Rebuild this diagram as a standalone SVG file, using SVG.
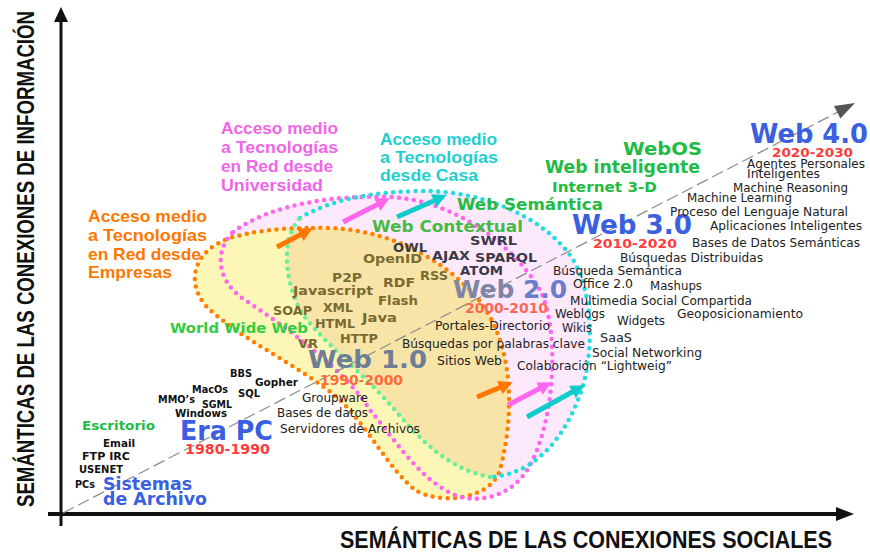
<svg xmlns="http://www.w3.org/2000/svg" width="870" height="553" viewBox="0 0 870 553">
<style>
.ax{font-family:"Liberation Sans",Arial,sans-serif;font-weight:bold;fill:#111}
.acc{font-family:"Liberation Sans",Arial,sans-serif;font-weight:bold;font-size:17px}
.v{font-family:"DejaVu Sans",Verdana,sans-serif;font-size:11.5px;fill:#222}
.vb{font-family:"DejaVu Sans",Verdana,sans-serif;font-weight:bold}
.g{fill:#22bb44}
.blue{fill:#3a5fe0}
.red{fill:#ff3b3b}
.tok{font-family:"DejaVu Sans",Verdana,sans-serif;font-weight:bold;font-size:13px;fill:#7a6a30}
.tokd{font-family:"DejaVu Sans",Verdana,sans-serif;font-weight:bold;font-size:13px;fill:#3a3a48}
.pc{font-family:"DejaVu Sans",Verdana,sans-serif;font-weight:bold;font-size:10px;fill:#111}
.dot{fill:none;stroke-width:4.5;stroke-linecap:round;stroke-dasharray:0 7.5}
.arr{stroke-width:5;fill:none}
</style>
<defs>
<path id="pOr" d="M313,228 C360,226 420,240 470,290 C510,330 518,400 500,470 C490,500 440,505 415,490 C390,470 370,430 340,400 C300,365 240,340 205,305 C185,280 195,250 230,238 C260,229 290,228 313,228 Z"/>
<path id="pPk" d="M233,232 C270,205 330,195 390,197 C450,200 510,240 540,290 C560,330 555,420 530,465 C515,495 480,505 455,495 C420,480 395,440 370,410 C345,370 290,330 245,300 C215,280 215,250 233,232 Z"/>
<path id="pCy" d="M300,218 C330,200 370,192 420,191 C480,190 540,215 570,255 C595,290 595,360 578,400 C560,445 530,475 490,477 C450,470 420,440 395,410 C360,370 320,340 300,310 C285,280 280,240 300,218 Z"/>
<clipPath id="clipOr"><use href="#pOr"/></clipPath>
<marker id="mO" viewBox="0 0 10 10" refX="1" refY="5" markerWidth="14" markerHeight="14" markerUnits="userSpaceOnUse" orient="auto"><path d="M0,0 L10,5 L0,10 Z" fill="#ff7700"/></marker>
<marker id="mP" viewBox="0 0 10 10" refX="1" refY="5" markerWidth="14" markerHeight="14" markerUnits="userSpaceOnUse" orient="auto"><path d="M0,0 L10,5 L0,10 Z" fill="#ff66ee"/></marker>
<marker id="mC" viewBox="0 0 10 10" refX="1" refY="5" markerWidth="14" markerHeight="14" markerUnits="userSpaceOnUse" orient="auto"><path d="M0,0 L10,5 L0,10 Z" fill="#11cccc"/></marker>
</defs>
<rect width="870" height="553" fill="#ffffff"/>

<g id="regions">
<use href="#pPk" fill="#fde9fc"/>
<use href="#pCy" fill="#fde9fc"/>
<use href="#pOr" fill="#fcf7b6"/>
<use href="#pCy" fill="#f8e4a6" clip-path="url(#clipOr)"/>
<use href="#pOr" class="dot" stroke="#ff8000"/>
<use href="#pPk" class="dot" stroke="#ff66ee"/>
<path class="dot" stroke="#22dddd" d="M300,218 C330,200 370,192 420,191 C480,190 540,215 570,255 C595,290 595,360 578,400 C560,445 530,475 490,477"/>
<path class="dot" stroke="#66ee99" d="M490,477 C450,470 420,440 395,410 C360,370 320,340 300,310 C285,280 280,240 300,218"/>
</g>

<g id="axes">
<line x1="61" y1="526" x2="61" y2="20" stroke="#111" stroke-width="3"/>
<polygon points="61,7 54,22 68,22" fill="#111"/>
<line x1="48" y1="514" x2="838" y2="514" stroke="#111" stroke-width="4"/>
<polygon points="854,514 836,507 836,521" fill="#111"/>
<text class="ax" font-size="23" transform="translate(34,507) rotate(-90)" textLength="496" lengthAdjust="spacingAndGlyphs">SEMÁNTICAS DE LAS CONEXIONES DE INFORMACIÓN</text>
<text class="ax" font-size="23" x="340" y="548" textLength="492" lengthAdjust="spacingAndGlyphs">SEMÁNTICAS DE LAS CONEXIONES SOCIALES</text>
</g>

<g id="connectors">
<line x1="63" y1="513" x2="838" y2="112" stroke="#8a8a8a" stroke-width="1.2" stroke-dasharray="12 5"/>
<polygon points="855,103 840.4,118.4 834,106" fill="#555"/>
<line class="arr" stroke="#ff7700" x1="277" y1="247" x2="301.5" y2="234.1" marker-end="url(#mO)"/>
<line class="arr" stroke="#ff7700" x1="477" y1="397" x2="501" y2="387" marker-end="url(#mO)"/>
<line class="arr" stroke="#ff66ee" x1="343" y1="222" x2="378.4" y2="203.9" marker-end="url(#mP)"/>
<line class="arr" stroke="#ff66ee" x1="508" y1="405" x2="540.5" y2="388" marker-end="url(#mP)"/>
<line class="arr" stroke="#11cccc" x1="397" y1="217" x2="435.1" y2="200.2" marker-end="url(#mC)"/>
<line class="arr" stroke="#11cccc" x1="527" y1="417" x2="573.6" y2="391.3" marker-end="url(#mC)"/>
</g>

<g id="acceso-universidad" class="acc" fill="#f066e8">
<text x="221" y="134" textLength="117" lengthAdjust="spacingAndGlyphs">Acceso medio</text>
<text x="221" y="153" textLength="117" lengthAdjust="spacingAndGlyphs">a Tecnologías</text>
<text x="221" y="172" textLength="112" lengthAdjust="spacingAndGlyphs">en Red desde</text>
<text x="221" y="191" textLength="102" lengthAdjust="spacingAndGlyphs">Universidad</text>
</g>
<g id="acceso-casa" class="acc" fill="#1ecfcf">
<text x="380" y="145" textLength="117" lengthAdjust="spacingAndGlyphs">Acceso medio</text>
<text x="380" y="163" textLength="118" lengthAdjust="spacingAndGlyphs">a Tecnologías</text>
<text x="380" y="181" textLength="98" lengthAdjust="spacingAndGlyphs">desde Casa</text>
</g>
<g id="acceso-empresas" class="acc" fill="#ff7700">
<text x="88" y="222" textLength="119" lengthAdjust="spacingAndGlyphs">Acceso medio</text>
<text x="88" y="241" textLength="119" lengthAdjust="spacingAndGlyphs">a Tecnologías</text>
<text x="88" y="260" textLength="113" lengthAdjust="spacingAndGlyphs">en Red desde</text>
<text x="88" y="278" textLength="84" lengthAdjust="spacingAndGlyphs">Empresas</text>
</g>

<g id="green-labels" class="vb g">
<text x="623" y="155" font-size="17" textLength="79" lengthAdjust="spacingAndGlyphs">WebOS</text>
<text x="545" y="173" font-size="17" textLength="155" lengthAdjust="spacingAndGlyphs">Web inteligente</text>
<text x="552" y="192" font-size="14" textLength="105" lengthAdjust="spacingAndGlyphs">Internet 3-D</text>
<text x="457" y="210" font-size="16" textLength="146" lengthAdjust="spacingAndGlyphs">Web Semántica</text>
<text x="372" y="232" font-size="16" fill="#44bb44" textLength="151" lengthAdjust="spacingAndGlyphs">Web Contextual</text>
<text x="170" y="333" font-size="14" fill="#33cc44" textLength="138" lengthAdjust="spacingAndGlyphs">World Wide Web</text>
<text x="82" y="430" font-size="13" textLength="73" lengthAdjust="spacingAndGlyphs">Escritorio</text>
</g>

<g id="web-semantica-tokens">
<text class="tokd" x="393" y="252" textLength="34" lengthAdjust="spacingAndGlyphs">OWL</text>
<text class="tokd" x="432" y="260" textLength="38" lengthAdjust="spacingAndGlyphs">AJAX</text>
<text class="tokd" x="470" y="245" textLength="47" lengthAdjust="spacingAndGlyphs">SWRL</text>
<text class="tokd" x="475" y="262" textLength="62" lengthAdjust="spacingAndGlyphs">SPARQL</text>
<text class="tokd" x="460" y="275" textLength="43" lengthAdjust="spacingAndGlyphs">ATOM</text>
</g>

<g id="web1-tokens">
<text class="tok" x="363" y="263" textLength="59" lengthAdjust="spacingAndGlyphs">OpenID</text>
<text class="tok" x="420" y="280" textLength="28" lengthAdjust="spacingAndGlyphs">RSS</text>
<text class="tok" x="332" y="282" textLength="30" lengthAdjust="spacingAndGlyphs">P2P</text>
<text class="tok" x="383" y="287" textLength="32" lengthAdjust="spacingAndGlyphs">RDF</text>
<text class="tok" x="293" y="295" textLength="80" lengthAdjust="spacingAndGlyphs">Javascript</text>
<text class="tok" x="378" y="305" textLength="40" lengthAdjust="spacingAndGlyphs">Flash</text>
<text class="tok" x="323" y="312" textLength="30" lengthAdjust="spacingAndGlyphs">XML</text>
<text class="tok" x="273" y="315" fill="#5a5020" textLength="39" lengthAdjust="spacingAndGlyphs">SOAP</text>
<text class="tok" x="362" y="322" textLength="35" lengthAdjust="spacingAndGlyphs">Java</text>
<text class="tok" x="315" y="328" textLength="40" lengthAdjust="spacingAndGlyphs">HTML</text>
<text class="tok" x="340" y="343" textLength="38" lengthAdjust="spacingAndGlyphs">HTTP</text>
<text class="tok" x="298" y="348" fill="#5a5020" textLength="20" lengthAdjust="spacingAndGlyphs">VR</text>
</g>

<g id="web-1">
<text class="vb" x="308" y="368" font-size="24" fill="#6d7e96" textLength="119" lengthAdjust="spacingAndGlyphs">Web 1.0</text>
<text class="vb" x="320" y="385" font-size="14" fill="#ff6a3a" textLength="83" lengthAdjust="spacingAndGlyphs">1990-2000</text>
<text class="v" x="302" y="402" fill="#333" textLength="66" lengthAdjust="spacingAndGlyphs">Groupware</text>
<text class="v" x="277" y="417" fill="#333" textLength="91" lengthAdjust="spacingAndGlyphs">Bases de datos</text>
<text class="v" x="280" y="433" fill="#333" textLength="140" lengthAdjust="spacingAndGlyphs">Servidores de Archivos</text>
</g>

<g id="web-2">
<text class="vb" x="453" y="298" font-size="24" textLength="114" lengthAdjust="spacingAndGlyphs"><tspan fill="#7d87a5">Web </tspan><tspan fill="#6a7ccc">2.0</tspan></text>
<text class="vb" x="465" y="313" font-size="14" fill="#ff6655" textLength="83" lengthAdjust="spacingAndGlyphs">2000-2010</text>
<text class="v" x="435" y="330" fill="#666" textLength="115" lengthAdjust="spacingAndGlyphs">Portales-Directorio</text>
<text class="v" x="402" y="348" fill="#555" textLength="183" lengthAdjust="spacingAndGlyphs">Búsquedas por palabras clave</text>
<text class="v" x="437" y="365" fill="#666" textLength="65" lengthAdjust="spacingAndGlyphs">Sitios Web</text>
<text class="v" x="555" y="318" fill="#444" textLength="50" lengthAdjust="spacingAndGlyphs">Weblogs</text>
<text class="v" x="562" y="332" fill="#444" textLength="30" lengthAdjust="spacingAndGlyphs">Wikis</text>
<text class="v" x="517" y="370" fill="#444" textLength="155" lengthAdjust="spacingAndGlyphs">Colaboración “Lightweig”</text>
</g>

<g id="web-3">
<text class="vb blue" x="572" y="234" font-size="26" textLength="120" lengthAdjust="spacingAndGlyphs">Web 3.0</text>
<text class="vb red" x="593" y="248" font-size="13" textLength="84" lengthAdjust="spacingAndGlyphs">2010-2020</text>
<text class="v" x="620" y="262" textLength="143" lengthAdjust="spacingAndGlyphs">Búsquedas Distribuidas</text>
<text class="v" x="553" y="275" textLength="129" lengthAdjust="spacingAndGlyphs">Búsqueda Semántica</text>
<text class="v" x="573" y="288" textLength="60" lengthAdjust="spacingAndGlyphs">Office 2.0</text>
<text class="v" x="650" y="290" textLength="52" lengthAdjust="spacingAndGlyphs">Mashups</text>
<text class="v" x="570" y="305" textLength="182" lengthAdjust="spacingAndGlyphs">Multimedia Social Compartida</text>
<text class="v" x="677" y="318" textLength="126" lengthAdjust="spacingAndGlyphs">Geoposicionamiento</text>
<text class="v" x="617" y="325" textLength="48" lengthAdjust="spacingAndGlyphs">Widgets</text>
<text class="v" x="600" y="342" textLength="32" lengthAdjust="spacingAndGlyphs">SaaS</text>
<text class="v" x="592" y="357" textLength="110" lengthAdjust="spacingAndGlyphs">Social Networking</text>
</g>

<g id="web-4">
<text class="vb blue" x="750" y="143" font-size="26" textLength="118" lengthAdjust="spacingAndGlyphs">Web 4.0</text>
<text class="vb red" x="772" y="157" font-size="13" textLength="81" lengthAdjust="spacingAndGlyphs">2020-2030</text>
<text class="v" x="747" y="168" textLength="118" lengthAdjust="spacingAndGlyphs">Agentes Personales</text>
<text class="v" x="747" y="178" textLength="73" lengthAdjust="spacingAndGlyphs">Inteligentes</text>
<text class="v" x="733" y="192" textLength="115" lengthAdjust="spacingAndGlyphs">Machine Reasoning</text>
<text class="v" x="687" y="202" textLength="105" lengthAdjust="spacingAndGlyphs">Machine Learning</text>
<text class="v" x="670" y="216" textLength="178" lengthAdjust="spacingAndGlyphs">Proceso del Lenguaje Natural</text>
<text class="v" x="710" y="230" textLength="152" lengthAdjust="spacingAndGlyphs">Aplicaciones Inteligentes</text>
<text class="v" x="692" y="247" textLength="168" lengthAdjust="spacingAndGlyphs">Bases de Datos Semánticas</text>
</g>

<g id="era-pc">
<text class="vb blue" x="180" y="440" font-size="26" textLength="93" lengthAdjust="spacingAndGlyphs">Era PC</text>
<text class="vb red" x="185" y="454" font-size="14" textLength="85" lengthAdjust="spacingAndGlyphs">1980-1990</text>
<text class="pc" x="230" y="377" textLength="22" lengthAdjust="spacingAndGlyphs">BBS</text>
<text class="pc" x="255" y="386" textLength="43" lengthAdjust="spacingAndGlyphs">Gopher</text>
<text class="pc" x="192" y="393" textLength="36" lengthAdjust="spacingAndGlyphs">MacOs</text>
<text class="pc" x="238" y="397" textLength="22" lengthAdjust="spacingAndGlyphs">SQL</text>
<text class="pc" x="158" y="403" textLength="37" lengthAdjust="spacingAndGlyphs">MMO’s</text>
<text class="pc" x="202" y="408" textLength="30" lengthAdjust="spacingAndGlyphs">SGML</text>
<text class="pc" x="175" y="417" textLength="52" lengthAdjust="spacingAndGlyphs">Windows</text>
</g>

<g id="sistemas-archivo">
<text class="vb blue" x="103" y="490" font-size="18" textLength="89" lengthAdjust="spacingAndGlyphs">Sistemas</text>
<text class="vb blue" x="103" y="505" font-size="18" textLength="104" lengthAdjust="spacingAndGlyphs">de Archivo</text>
<text class="pc" x="103" y="447" textLength="32" lengthAdjust="spacingAndGlyphs">Email</text>
<text class="pc" x="82" y="460" textLength="48" lengthAdjust="spacingAndGlyphs">FTP  IRC</text>
<text class="pc" x="79" y="473" textLength="44" lengthAdjust="spacingAndGlyphs">USENET</text>
<text class="pc" x="75" y="488" textLength="20" lengthAdjust="spacingAndGlyphs">PCs</text>
</g>
</svg>
